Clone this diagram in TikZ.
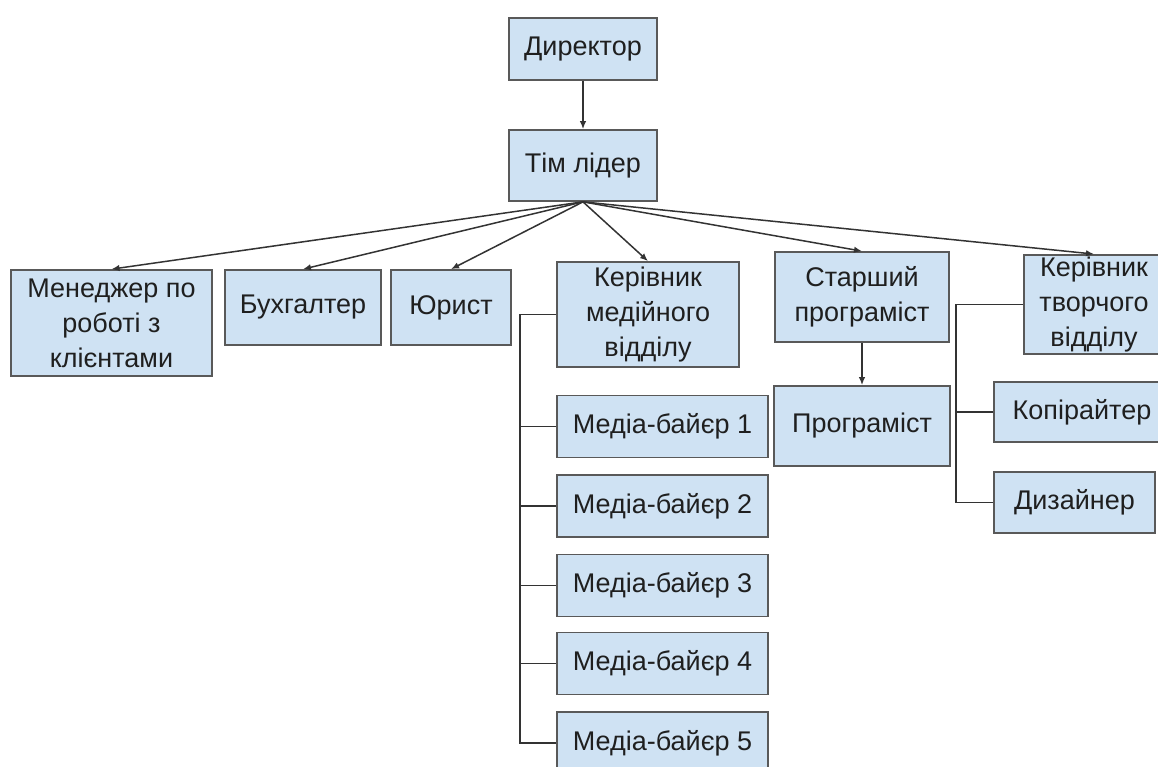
\documentclass[tikz,border=0pt]{standalone}
\usepackage{fontspec}
\setmainfont{Liberation Sans}
\usepackage{tikz}
\usetikzlibrary{arrows.meta}

\definecolor{boxfill}{HTML}{CFE2F3}
\definecolor{boxline}{HTML}{595959}
\definecolor{wire}{HTML}{333333}
\definecolor{ink}{HTML}{1F1F1F}

\begin{document}
\begin{tikzpicture}[x=1pt, y=-1pt,
	every node/.style={font=\fontsize{27}{35}\selectfont, text=ink},
	box/.style={draw=boxline, line width=1.7pt, fill=boxfill, align=center, inner sep=2pt},
	wire/.style={draw=wire, line width=1.5pt},
	>={Latex[length=8pt, width=6.5pt]}]
	\useasboundingbox (0,0) rectangle (1158,766);
	\clip (0,0) rectangle (1158,766);
	% top of the chart
	\node[box, minimum width=148, minimum height=62] (dir) at (583,49) {Директор};
	\node[box, minimum width=148, minimum height=71] (lead) at (583,165.5) {Тім лідер};
	% second row
	\node[box, minimum width=201, minimum height=106] (mgr) at (111.5,323) {Менеджер по\\ роботі з\\ клієнтами};
	\node[box, minimum width=156, minimum height=75] (acc) at (303,307.5) {Бухгалтер};
	\node[box, minimum width=120, minimum height=75] (law) at (451,307.5) {Юрист};
	\node[box, minimum width=182, minimum height=105] (media) at (648,314.5) {Керівник\\ медійного\\ відділу};
	\node[box, minimum width=174, minimum height=90] (senior) at (862,297) {Старший\\ програміст};
	\node[box, minimum width=140, minimum height=97] (creative) at (1094,304.5) {Керівник\\ творчого\\ відділу};
	% media buyers
	\node[box, minimum width=211, minimum height=62] (buyer1) at (662.5,426.5) {Медіа-байєр 1};
	\node[box, minimum width=211, minimum height=62] (buyer2) at (662.5,506) {Медіа-байєр 2};
	\node[box, minimum width=211, minimum height=62] (buyer3) at (662.5,585.5) {Медіа-байєр 3};
	\node[box, minimum width=211, minimum height=62] (buyer4) at (662.5,663.5) {Медіа-байєр 4};
	\node[box, minimum width=211, minimum height=62] (buyer5) at (662.5,743) {Медіа-байєр 5};
	% developers and creative team
	\node[box, minimum width=176, minimum height=80] (dev) at (862,426) {Програміст};
	\node[box, minimum width=176, minimum height=60] (copy) at (1082,412) {Копірайтер};
	\node[box, minimum width=161, minimum height=61] (design) at (1074.5,502.5) {Дизайнер};

	\draw[wire, ->] (dir) -- (lead);
	\draw[wire, ->] (lead.south) -- (mgr.north);
	\draw[wire, ->] (lead.south) -- (acc.north);
	\draw[wire, ->] (lead.south) -- (law.north);
	\draw[wire, ->] (lead.south) -- (media.north);
	\draw[wire, ->] (lead.south) -- (senior.north);
	\draw[wire, ->] (lead.south) -- (creative.north);
	\draw[wire, ->] (senior) -- (dev);

	\draw[wire] (media.west) -- ++(-36,0) |- (buyer5.west);
	\draw[wire] (buyer1.west) -- ++(-36,0);
	\draw[wire] (buyer2.west) -- ++(-36,0);
	\draw[wire] (buyer3.west) -- ++(-36,0);
	\draw[wire] (buyer4.west) -- ++(-36,0);

	\draw[wire] (creative.west) -- ++(-67,0) |- (design.west);
	\draw[wire] (copy.west) -- ++(-37,0);
\end{tikzpicture}
\end{document}
